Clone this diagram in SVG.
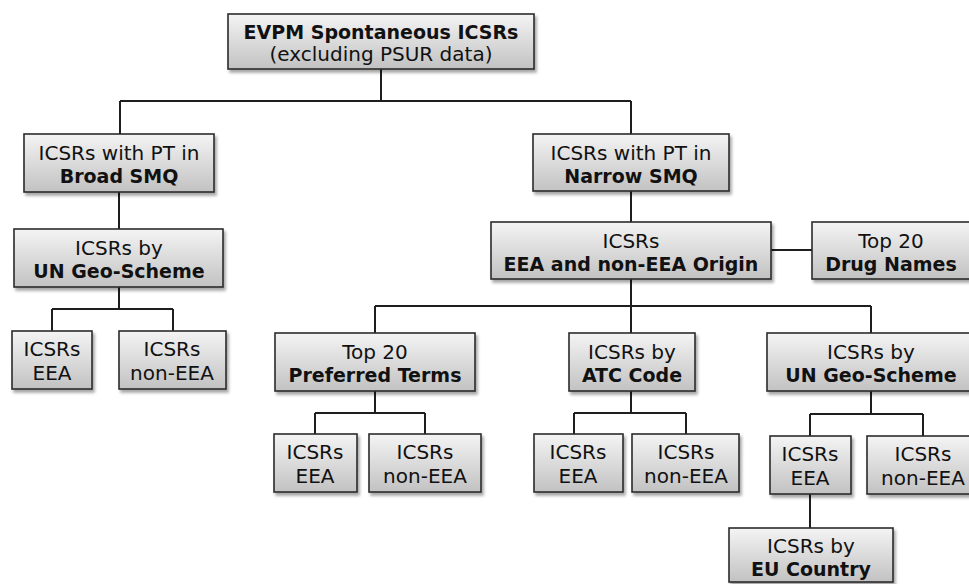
<svg xmlns="http://www.w3.org/2000/svg" width="969" height="584" viewBox="0 0 969 584">
<defs>
<linearGradient id="g" x1="0" y1="0" x2="0" y2="1">
<stop offset="0" stop-color="#f4f4f4"/>
<stop offset="1" stop-color="#c2c2c2"/>
</linearGradient>
<filter id="sh" x="-10%" y="-10%" width="130%" height="140%">
<feDropShadow dx="2" dy="3" stdDeviation="1.5" flood-color="#000" flood-opacity="0.35"/>
</filter>
<style>
.b{fill:url(#g);stroke:#2b2b2b;stroke-width:1.6;filter:url(#sh)}
.t{font-family:"DejaVu Sans",Verdana,sans-serif;font-size:20px;fill:#111;text-anchor:middle}
.bd{font-weight:bold;font-size:19px}
.c{fill:none;stroke:#1e1e1e;stroke-width:2}
</style>
</defs>
<rect width="969" height="584" fill="#fff"/>
<g id="connectors">
<path class="c" d="M381 69V101M120 101H631M120 101V134M631 101V134"/>
<path class="c" d="M119 192V229M119 287V309M52 309H173M52 309V331M173 309V331"/>
<path class="c" d="M631 191V222M771 250H812M631 279V306M375 306H871M375 306V333M631 306V333M871 306V333"/>
<path class="c" d="M375 391V413M315 413H425M315 413V434M425 413V434"/>
<path class="c" d="M631 391V413M574 413H686M574 413V434M686 413V434"/>
<path class="c" d="M871 391V414M810 414H923M810 414V436M923 414V436M810 494V528"/>
</g>
<g id="root"><rect class="b" x="228" y="14" width="306" height="55"/>
<text class="t bd" x="381" y="39">EVPM Spontaneous ICSRs</text>
<text class="t" x="381" y="61">(excluding PSUR data)</text></g>
<g id="broad"><rect class="b" x="24" y="134" width="190" height="58"/>
<text class="t" x="119" y="160">ICSRs with PT in</text>
<text class="t bd" x="119" y="183">Broad SMQ</text></g>
<g id="geoLeft"><rect class="b" x="14" y="229" width="209" height="58"/>
<text class="t" x="119" y="255">ICSRs by</text>
<text class="t bd" x="119" y="278">UN Geo-Scheme</text></g>
<g id="eeaLeft"><rect class="b" x="12" y="331" width="80" height="58"/>
<text class="t" x="52" y="356">ICSRs</text>
<text class="t" x="52" y="380">EEA</text></g>
<g id="nonEeaLeft"><rect class="b" x="119" y="331" width="107" height="58"/>
<text class="t" x="172" y="356">ICSRs</text>
<text class="t" x="172" y="380">non-EEA</text></g>
<g id="narrow"><rect class="b" x="533" y="134" width="196" height="57"/>
<text class="t" x="631" y="160">ICSRs with PT in</text>
<text class="t bd" x="631" y="183">Narrow SMQ</text></g>
<g id="origin"><rect class="b" x="491" y="222" width="280" height="57"/>
<text class="t" x="631" y="248">ICSRs</text>
<text class="t bd" x="631" y="271">EEA and non-EEA Origin</text></g>
<g id="drugNames"><rect class="b" x="812" y="222" width="160" height="57"/>
<text class="t" x="891" y="248">Top 20</text>
<text class="t bd" x="891" y="271">Drug Names</text></g>
<g id="prefTerms"><rect class="b" x="275" y="333" width="200" height="58"/>
<text class="t" x="375" y="359">Top 20</text>
<text class="t bd" x="375" y="382">Preferred Terms</text></g>
<g id="atc"><rect class="b" x="569" y="333" width="126" height="58"/>
<text class="t" x="632" y="359">ICSRs by</text>
<text class="t bd" x="632" y="382">ATC Code</text></g>
<g id="geoRight"><rect class="b" x="767" y="333" width="208" height="58"/>
<text class="t" x="871" y="359">ICSRs by</text>
<text class="t bd" x="871" y="382">UN Geo-Scheme</text></g>
<g id="eeaPT"><rect class="b" x="274" y="434" width="83" height="58"/>
<text class="t" x="315" y="459">ICSRs</text>
<text class="t" x="315" y="483">EEA</text></g>
<g id="nonEeaPT"><rect class="b" x="369" y="434" width="112" height="58"/>
<text class="t" x="425" y="459">ICSRs</text>
<text class="t" x="425" y="483">non-EEA</text></g>
<g id="eeaATC"><rect class="b" x="534" y="434" width="89" height="58"/>
<text class="t" x="578" y="459">ICSRs</text>
<text class="t" x="578" y="483">EEA</text></g>
<g id="nonEeaATC"><rect class="b" x="632" y="434" width="107" height="58"/>
<text class="t" x="686" y="459">ICSRs</text>
<text class="t" x="686" y="483">non-EEA</text></g>
<g id="eeaGeo"><rect class="b" x="770" y="436" width="81" height="58"/>
<text class="t" x="810" y="461">ICSRs</text>
<text class="t" x="810" y="485">EEA</text></g>
<g id="nonEeaGeo"><rect class="b" x="867" y="436" width="112" height="58"/>
<text class="t" x="923" y="461">ICSRs</text>
<text class="t" x="923" y="485">non-EEA</text></g>
<g id="euCountry"><rect class="b" x="729" y="528" width="164" height="54"/>
<text class="t" x="811" y="553">ICSRs by</text>
<text class="t bd" x="811" y="576">EU Country</text></g>
</svg>
